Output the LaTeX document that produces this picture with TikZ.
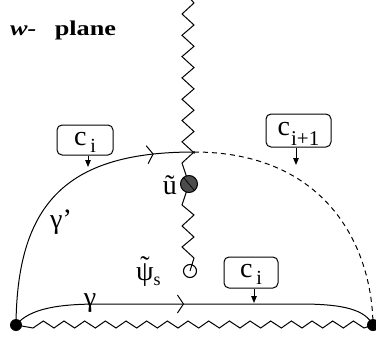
\documentclass[tikz,border=0pt]{standalone}
\usepackage{fontspec}
\setmainfont{Liberation Serif}
\usetikzlibrary{arrows.meta,decorations.markings}
\begin{document}
\begin{tikzpicture}[x=1pt,y=-1pt,
  cbox/.style={draw, rounded corners=5pt, line width=1pt, inner sep=0pt,
    font=\fontsize{28}{28}\selectfont, text height=15pt, text depth=5pt},
  pin/.style={-{Triangle[length=7pt,width=5.5pt]}, line width=0.9pt},
  curve/.style={line width=1pt},
  cut/.style={line width=1pt, line join=miter},
  lbl/.style={inner sep=0pt, font=\fontsize{28}{28}\selectfont},
  midarrow/.style={postaction={decorate}, decoration={markings,
    mark=at position #1 with {\arrow{Straight Barb[length=6pt,width=18pt,line width=1pt]}}}}
]
\useasboundingbox (0,0) rectangle (376,341);

% key points
\coordinate (A) at (194,152);
\coordinate (uc) at (189,184);
\coordinate (pc) at (190,271);
\coordinate (top) at (188,-4);
\node[circle, fill, inner sep=0pt, minimum size=12pt] (L) at (16,325) {};
\node[circle, fill, inner sep=0pt, minimum size=12pt] (R) at (373,325) {};

% vertical cut
\draw[cut] (top) -- (194,3)
  \foreach \k in {0,...,6}{ -- (182,{14+21.3*\k}) -- (194,{25+21.3*\k}) }
  -- (A) -- (182,163) -- (uc);
\draw[cut] (uc) -- (182,205) -- (194,215) -- (182,226) -- (194,237)
  -- (182,247) -- (194,258) -- (pc);

% bottom cut
\draw[cut] (L.center) -- (33,328)
  \foreach \k in {0,...,15}{ -- ({43.33+20.67*\k},321) -- ({54+20.67*\k},328) }
  -- (R.center);

% branch points
\node[circle, draw, fill=black!70, line width=1pt, minimum size=17pt, inner sep=0pt] (U) at (uc) {};
\draw[line width=0.7pt] (U.130) -- (U.-50);
\node[circle, draw, line width=1.1pt, minimum size=13pt, inner sep=0pt] (P) at (pc) {};

% contours
\draw[curve, midarrow=0.86] (L.center) .. controls (17,200) and (70,152) .. (A);
\draw[curve, dashed, dash pattern=on 5pt off 4pt] (A) .. controls (325,152) and (372,245) .. (R.center);
\draw[curve, midarrow=0.47] (L.center) .. controls (30,308) and (60,304) .. (100,304)
  -- (300,304) .. controls (345,304) and (365,310) .. (R.center);

% labels
\node[anchor=base west, inner sep=0pt] (title) at (10,35)
  {\scalebox{1.25}[1]{\fontsize{21}{21}\selectfont\bfseries\itshape w-\hspace{0.7em}\upshape plane}};
\node[lbl] (gp) at (61,222) {γ’};
\node[lbl] (g) at (90,303) {γ};
\node[lbl, anchor=base east] (ul) at (177,194) {ũ};
\node[lbl, anchor=base west] (pl) at (136,280)
  {\ooalign{ψ\cr\hidewidth\raisebox{5pt}{\char"02DC}\hidewidth\cr}\raisebox{-5pt}{\fontsize{18}{18}\selectfont s}};

% boxes
\node[cbox, minimum width=56pt, minimum height=30pt] (c1) at (85,140)
  {c\hspace{4pt}\raisebox{-7pt}{\fontsize{20}{20}\selectfont i}\hspace{6pt}};
\node[cbox, minimum width=65pt, minimum height=33pt] (c2) at (298.5,130.5)
  {c\hspace{1pt}\raisebox{-10pt}{\fontsize{21}{21}\selectfont i+1}};
\node[cbox, minimum width=54pt, minimum height=31pt] (c3) at (251,272.5)
  {c\hspace{4pt}\raisebox{-7pt}{\fontsize{20}{20}\selectfont i}\hspace{6pt}};

\coordinate (t1) at (88,167);
\coordinate (t2) at (296,165);
\coordinate (t3) at (254,303);
\draw[pin] (c1.south -| t1) -- (t1);
\draw[pin] (c2.south -| t2) -- (t2);
\draw[pin] (c3.south -| t3) -- (t3);
\end{tikzpicture}
\end{document}
